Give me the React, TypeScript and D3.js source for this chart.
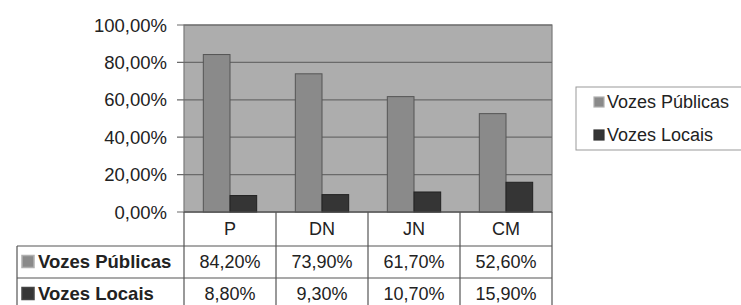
import React, { useEffect, useRef } from 'react';
import * as d3 from 'd3';

const categories = ['P', 'DN', 'JN', 'CM'];
const seriesNames = ['Vozes Públicas', 'Vozes Locais'];
const vozesPublicas = [0.842, 0.739, 0.617, 0.526];
const vozesLocais = [0.088, 0.093, 0.107, 0.159];
const yTicks = [0, 0.2, 0.4, 0.6, 0.8, 1.0];

const fmt = (v: number) => (v * 100).toFixed(2).replace('.', ',') + '%';

const App = () => {
  const svgRef = useRef<SVGSVGElement | null>(null);

  useEffect(() => {
    if (!svgRef.current) return;
    const width = 741;
    const height = 305;
    const plot = { left: 184, right: 552, top: 25, bottom: 212 };
    const font = "'Liberation Sans', Arial, sans-serif";
    const textColor = '#222';
    const seriesValues = [vozesPublicas, vozesLocais];
    const fills = ['#8a8a8a', '#353535'];

    const svg = d3.select(svgRef.current);
    svg.selectAll('*').remove();
    svg.attr('width', width).attr('height', height);

    svg.append('rect').attr('width', width).attr('height', height).attr('fill', '#fff');

    const x = d3.scaleBand<string>()
      .domain(categories)
      .range([plot.left, plot.right])
      .paddingInner(0.42)
      .paddingOuter(0.21);
    const step = x.step();
    const xs = d3.scaleBand<string>().domain(seriesNames).range([0, x.bandwidth()]);
    const y = d3.scaleLinear().domain([0, 1]).range([plot.bottom, plot.top]);

    // plot area
    svg.append('rect')
      .attr('x', plot.left).attr('y', plot.top)
      .attr('width', plot.right - plot.left).attr('height', plot.bottom - plot.top)
      .attr('fill', '#adadad').attr('stroke', '#7a7a7a').attr('stroke-width', 1.2);

    // gridlines + ticks
    svg.append('g').selectAll('line')
      .data(yTicks)
      .enter().append('line')
      .attr('x1', plot.left - 7).attr('x2', plot.right)
      .attr('y1', d => y(d)).attr('y2', d => y(d))
      .attr('stroke', '#6a6a6a').attr('stroke-width', 1.2);

    svg.append('g').selectAll('text')
      .data(yTicks)
      .enter().append('text')
      .attr('x', 167).attr('y', d => y(d))
      .attr('dy', '0.36em')
      .attr('text-anchor', 'end')
      .attr('font-family', font).attr('font-size', 18.5)
      .attr('fill', textColor)
      .text(d => fmt(d));

    // bars
    seriesNames.forEach((name, si) => {
      svg.append('g').selectAll('rect')
        .data(categories)
        .enter().append('rect')
        .attr('x', c => (x(c) as number) + (xs(name) as number))
        .attr('y', (_, i) => y(seriesValues[si][i]))
        .attr('width', xs.bandwidth())
        .attr('height', (_, i) => plot.bottom - y(seriesValues[si][i]))
        .attr('fill', fills[si])
        .attr('stroke', si === 0 ? '#555' : '#222')
        .attr('stroke-width', 1);
    });

    // data table
    const rowY = [212, 246, 278, 312];
    const tableLeft = 17;
    const t = svg.append('g').attr('stroke', '#555').attr('stroke-width', 1.2);
    t.append('line').attr('x1', plot.left).attr('x2', plot.right).attr('y1', rowY[0]).attr('y2', rowY[0]);
    t.append('line').attr('x1', tableLeft).attr('x2', plot.right).attr('y1', rowY[1]).attr('y2', rowY[1]);
    t.append('line').attr('x1', tableLeft).attr('x2', plot.right).attr('y1', rowY[2]).attr('y2', rowY[2]);
    t.append('line').attr('x1', tableLeft).attr('x2', plot.right).attr('y1', rowY[3]).attr('y2', rowY[3]);
    t.append('line').attr('x1', tableLeft).attr('x2', tableLeft).attr('y1', rowY[1]).attr('y2', rowY[3]);
    d3.range(categories.length + 1).forEach(i => {
      const xx = plot.left + i * step;
      t.append('line').attr('x1', xx).attr('x2', xx).attr('y1', rowY[0]).attr('y2', rowY[3]);
    });

    const cellText = svg.append('g')
      .attr('font-family', font).attr('font-size', 18).attr('fill', textColor)
      .attr('text-anchor', 'middle');
    categories.forEach((c, i) => {
      const cx = (x(c) as number) + x.bandwidth() / 2;
      cellText.append('text').attr('x', cx).attr('y', 235).text(c);
      cellText.append('text').attr('x', cx).attr('y', 268).text(fmt(vozesPublicas[i]));
      cellText.append('text').attr('x', cx).attr('y', 300).text(fmt(vozesLocais[i]));
    });

    const rowBase = [268, 300];
    seriesNames.forEach((name, si) => {
      svg.append('rect')
        .attr('x', 22).attr('y', rowBase[si] - 12.5)
        .attr('width', 12).attr('height', 12)
        .attr('fill', fills[si])
        .attr('stroke', si === 0 ? '#b0b0b0' : '#444').attr('stroke-width', 1.5);
      svg.append('text')
        .attr('x', 38).attr('y', rowBase[si])
        .attr('font-family', font).attr('font-size', 18.5).attr('font-weight', 600)
        .attr('fill', textColor)
        .text(name);
    });

    // legend
    const lg = svg.append('g');
    lg.append('rect')
      .attr('x', 576).attr('y', 87).attr('width', 170).attr('height', 63)
      .attr('fill', '#fff').attr('stroke', '#999').attr('stroke-width', 1);
    const legBase = [108, 141];
    seriesNames.forEach((name, si) => {
      lg.append('rect')
        .attr('x', 594).attr('y', legBase[si] - 11)
        .attr('width', 10).attr('height', 10)
        .attr('fill', fills[si])
        .attr('stroke', si === 0 ? '#b0b0b0' : '#333').attr('stroke-width', 1.2);
      lg.append('text')
        .attr('x', 607).attr('y', legBase[si])
        .attr('font-family', font).attr('font-size', 18)
        .attr('fill', textColor)
        .text(name);
    });
  }, []);

  return <svg ref={svgRef} style={{ position: 'absolute', left: 0, top: 0 }}></svg>;
};

export default App;
